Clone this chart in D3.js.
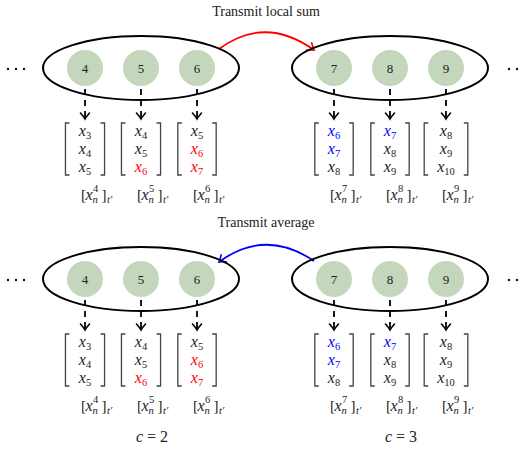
<!DOCTYPE html>
<meta charset="utf-8">
<title>Cluster transmit diagram</title>
<script src="https://d3js.org/d3.v7.min.js"></script>
<style>
  body { margin: 0; background: #fff; }
</style>
<body>
<script>

// data
const panelTitles = ["Transmit local sum", "Transmit average"];
const arrowDirections = ["right", "left"];
const clusterIds = [2, 3];
const clusterNodes = [[4, 5, 6], [7, 8, 9]];
const nodeWindows = [
  [[3, 4, 5], [4, 5, 6], [5, 6, 7]],
  [[6, 7, 8], [7, 8, 9], [8, 9, 10]]
];
const sharedEntries = [6, 7];

// style
const width = 522, height = 449;
const clusterColours = ["#ff0000", "#0000ff"];
const nodeFill = "#c4d7bc";
const serif = "Liberation Serif";

const clusterX = d3.scalePoint().domain(clusterIds).range([141, 390]);
const slotX = d3.scalePoint().domain([0, 1, 2]).range([-56, 56]);
const panelY = d3.scalePoint().domain(panelTitles).range([0, 211]);
const rowY = d3.scalePoint().domain([0, 1, 2]).range([136, 172]);

const svg = d3.select("body").append("svg")
  .attr("width", width)
  .attr("height", height)
  .attr("font-family", serif);

// arrow heads
const defs = svg.append("defs");
["black", ...clusterColours].forEach((col, i) => {
  defs.append("marker")
    .attr("id", "tip" + i)
    .attr("viewBox", "-8 -6 10 12")
    .attr("markerWidth", 10).attr("markerHeight", 12)
    .attr("markerUnits", "userSpaceOnUse")
    .attr("refX", 0).attr("refY", 0)
    .attr("orient", "auto")
    .append("path")
      .attr("d", "M-6,-4.5 Q-2,-1 0,0 Q-2,1 -6,4.5")
      .attr("fill", "none")
      .attr("stroke", col)
      .attr("stroke-width", 1.6)
      .attr("stroke-linecap", "round");
});

const ellY = 68;

panelTitles.forEach((title, p) => {
  const g = svg.append("g").attr("transform", `translate(0,${panelY(title)})`);

  g.append("text")
    .attr("x", 266).attr("y", 16)
    .attr("text-anchor", "middle")
    .attr("font-size", 14)
    .attr("fill", "#222")
    .text(title);

  // dots either side
  [8, 16, 24, 509, 517, 525].forEach(x => {
    g.append("circle").attr("cx", x).attr("cy", ellY + 1).attr("r", 1.2).attr("fill", "#111");
  });

  // transmission arc
  const xa = clusterX(clusterIds[0]) + 78, xb = clusterX(clusterIds[1]) - 76;
  const path = d3.path();
  if (arrowDirections[p] === "right") {
    path.moveTo(xa, 49);
    path.quadraticCurveTo(265, 15, xb, 50);
  } else {
    path.moveTo(xb, 50);
    path.quadraticCurveTo(265, 17, xa, 51);
  }
  const ci = arrowDirections[p] === "right" ? 0 : 1;
  g.append("path")
    .attr("d", path.toString())
    .attr("fill", "none")
    .attr("stroke", clusterColours[ci])
    .attr("stroke-width", 1.8)
    .attr("marker-end", `url(#tip${ci + 1})`);

  clusterIds.forEach((c, k) => {
    const cx = clusterX(c);

    g.append("ellipse")
      .attr("cx", cx).attr("cy", ellY)
      .attr("rx", 98).attr("ry", 32)
      .attr("fill", "none")
      .attr("stroke", "#000")
      .attr("stroke-width", 2);

    clusterNodes[k].forEach((n, j) => {
      const x = cx + slotX(j);

      g.append("circle")
        .attr("cx", x).attr("cy", ellY).attr("r", 18)
        .attr("fill", nodeFill);
      g.append("text")
        .attr("x", x).attr("y", ellY + 4.5)
        .attr("text-anchor", "middle")
        .attr("font-size", 13)
        .attr("fill", "#222")
        .text(n);

      // dashed arrow down
      g.append("line")
        .attr("x1", x).attr("x2", x)
        .attr("y1", 89).attr("y2", 119)
        .attr("stroke", "#000")
        .attr("stroke-width", 1.8)
        .attr("stroke-dasharray", "6,5")
        .attr("marker-end", "url(#tip0)");

      // window column
      const col = g.append("g");
      nodeWindows[k][j].forEach((v, r) => {
        const fillCol = sharedEntries.includes(v) ? clusterColours[k] : "#222";
        const t = col.append("text")
          .attr("x", x).attr("y", rowY(r))
          .attr("text-anchor", "middle")
          .attr("font-size", 16)
          .attr("fill", fillCol);
        t.append("tspan").attr("font-style", "italic").text("x");
        t.append("tspan").attr("font-size", 10.5).attr("dy", 3).text(v);
      });
      const bb = col.node().getBBox();
      const hw = bb.width / 2 + 12.5;
      [-1, 1].forEach(s => {
        const bx = x + s * hw;
        g.append("path")
          .attr("d", `M${bx - s * 4},123 H${bx} V175 H${bx - s * 4}`)
          .attr("fill", "none")
          .attr("stroke", "#444")
          .attr("stroke-width", 1.3);
      });

      // label [x_n^k]_t'
      const lx = x - 4, ly = 200;
      const lab = g.append("g").attr("transform", `translate(${lx},${ly})`).attr("fill", "#222");
      lab.append("text").attr("x", 0).attr("font-size", 15).text("[");
      lab.append("text").attr("x", 4.5).attr("font-size", 16).attr("font-style", "italic").text("x");
      lab.append("text").attr("x", 12).attr("y", -8).attr("font-size", 10.5).text(n);
      lab.append("text").attr("x", 11.5).attr("y", 3).attr("font-size", 10.5).attr("font-style", "italic").text("n");
      lab.append("text").attr("x", 20.5).attr("font-size", 15).text("]");
      lab.append("text").attr("x", 26).attr("y", 3).attr("font-size", 10.5).attr("font-style", "italic").text("t\u2032");
    });

    if (p === panelTitles.length - 1) {
      const t = svg.append("text")
        .attr("x", cx + 11).attr("y", 442)
        .attr("text-anchor", "middle")
        .attr("font-size", 16)
        .attr("fill", "#222");
      t.append("tspan").attr("font-style", "italic").text("c");
      t.append("tspan").text(" = " + c);
    }
  });
});

</script>
</body>
